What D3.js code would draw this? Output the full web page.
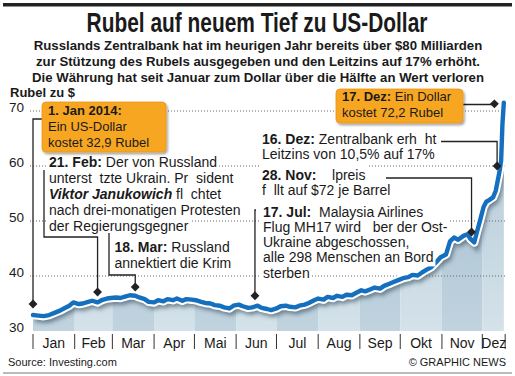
<!DOCTYPE html>
<html>
<head>
<meta charset="utf-8">
<script src="https://d3js.org/d3.v7.min.js"></script>
<style>
  body { margin:0; background:#fff; }
  text { font-family: "Liberation Sans", Arial, Helvetica, sans-serif; fill:#1a1a1a; }
</style>
</head>
<body>
<script>
// Rubel je US-Dollar, 2014
var dates = [
  "2014-01-01","2014-01-05","2014-01-09","2014-01-13","2014-01-17","2014-01-21","2014-01-24","2014-01-28","2014-01-31",
  "2014-02-04","2014-02-07","2014-02-11","2014-02-14","2014-02-18","2014-02-21","2014-02-25","2014-02-28",
  "2014-03-04","2014-03-07","2014-03-11","2014-03-14","2014-03-18","2014-03-21","2014-03-25","2014-03-28",
  "2014-04-01","2014-04-04","2014-04-08","2014-04-11","2014-04-15","2014-04-18","2014-04-22","2014-04-25","2014-04-29",
  "2014-05-02","2014-05-06","2014-05-09","2014-05-13","2014-05-16","2014-05-20","2014-05-23","2014-05-27","2014-05-30",
  "2014-06-03","2014-06-06","2014-06-10","2014-06-13","2014-06-17","2014-06-20","2014-06-24","2014-06-27",
  "2014-07-01","2014-07-04","2014-07-08","2014-07-11","2014-07-15","2014-07-18","2014-07-22","2014-07-25","2014-07-29",
  "2014-08-01","2014-08-05","2014-08-08","2014-08-12","2014-08-15","2014-08-19","2014-08-22","2014-08-26","2014-08-29",
  "2014-09-02","2014-09-05","2014-09-09","2014-09-12","2014-09-16","2014-09-19","2014-09-23","2014-09-26","2014-09-30",
  "2014-10-03","2014-10-07","2014-10-10","2014-10-14","2014-10-17","2014-10-21","2014-10-24","2014-10-28","2014-10-31",
  "2014-11-04","2014-11-07","2014-11-10","2014-11-13","2014-11-17","2014-11-20","2014-11-22","2014-11-25","2014-11-27","2014-11-29",
  "2014-12-02","2014-12-04","2014-12-06","2014-12-09","2014-12-11","2014-12-13","2014-12-14","2014-12-15","2014-12-16","2014-12-17"
];
var rates = [
  32.9,32.8,32.7,32.9,33.3,33.7,34.1,34.6,35.2,
  34.9,35.0,35.3,35.5,35.2,35.6,35.9,36.0,
  36.1,36.0,36.3,36.5,36.4,36.1,35.8,35.3,
  35.2,35.6,35.4,35.8,35.6,35.9,35.5,35.8,35.7,
  35.6,35.3,35.1,35.0,34.7,34.6,34.3,34.1,34.6,
  34.8,34.5,34.2,34.3,34.6,34.2,34.0,33.8,
  34.1,34.5,34.6,34.4,34.3,34.6,34.8,35.1,35.6,
  35.9,35.7,36.2,36.0,36.4,36.2,36.6,36.5,36.9,
  37.4,37.2,37.6,37.9,37.7,38.2,38.6,38.9,39.3,
  39.6,39.8,40.2,40.1,40.6,41.2,41.6,42.6,43.4,
  43.9,46.3,47.0,46.6,47.3,47.6,46.8,46.1,48.0,49.8,
  52.6,53.5,53.8,54.3,55.5,58.0,59.3,61.0,67.8,71.5
];
var monthLabels = ["Jan","Feb","Mar","Apr","Mai","Jun","Jul","Aug","Sep","Okt","Nov","Dez"];
var yLabels = [30, 40, 50, 60, 70];
var gridValues = [40, 50, 60, 70];
var axisEndDate = "2014-12-18";

var titleText = "Rubel auf neuem Tief zu US-Dollar";
var subtitleLines = [
  "Russlands Zentralbank hat im heurigen Jahr bereits über $80 Milliarden",
  "zur Stützung des Rubels ausgegeben und den Leitzins auf 17% erhöht.",
  "Die Währung hat seit Januar zum Dollar über die Hälfte an Wert verloren"
];
var unitLabel = "Rubel zu $";
var sourceText = "Source: Investing.com";
var creditText = "© GRAPHIC NEWS";

// Ereignisse: Text (*fett*, _fett kursiv_), Markerdatum und Markerhöhe
var noteText = [
  ["*1. Jan 2014:*", "Ein US-Dollar", "kostet 32,9 Rubel"],
  ["*21. Feb:* Der von Russland", "unterst  tzte Ukrain. Pr  sident", "_Viktor Janukowich_ fl  chtet", "nach drei-monatigen Protesten", "der Regierungsgegner"],
  ["*18. Mar:* Russland", "annektiert die Krim"],
  ["*17. Jul:*  Malaysia Airlines", "Flug MH17 wird   ber der Ost-", "Ukraine abgeschossen,", "alle 298 Menschen an Bord", "sterben"],
  ["*28. Nov:*    lpreis", "f  llt auf $72 je Barrel"],
  ["*16. Dez:* Zentralbank erh  ht", "Leitzins von 10,5% auf 17%"],
  ["*17. Dez:* Ein Dollar", "kostet 72,2 Rubel"]
];
var noteAt = ["2014-01-01","2014-02-18","2014-03-18","2014-06-15","2014-11-23","2014-12-12","2014-12-10"];
var noteValue = [34.9, 37.1, 38.0, 36.4, 48.0, 60.0, 71.3];

var width = 515, height = 376;
var parse = d3.timeParse("%Y-%m-%d");
var data = dates.map(function (d, i) { return {date: parse(d), v: rates[i]}; });
var axisEnd = parse(axisEndDate);

var x = d3.scaleTime()
    .domain([new Date(2014, 0, 1), new Date(2015, 0, 1)])
    .range([33, 524]);
var y = d3.scaleLinear()
    .domain([30, 70])
    .range([331, 111]);

var svg = d3.select("body").append("svg")
    .attr("width", width)
    .attr("height", height);

var defs = svg.append("defs");
var area = d3.area()
    .x(function (d) { return x(d.date); })
    .y0(y(30))
    .y1(function (d) { return y(d.v); });
var line = d3.line()
    .x(function (d) { return x(d.date); })
    .y(function (d) { return y(d.v); });

defs.append("clipPath").attr("id", "areaClip")
    .append("path").attr("d", area(data));
defs.append("filter").attr("id", "blur")
    .attr("x", "-20%").attr("y", "-20%").attr("width", "140%").attr("height", "140%")
    .append("feGaussianBlur").attr("stdDeviation", 2.2);
var ds = defs.append("filter").attr("id", "boxShadow")
    .attr("x", "-10%").attr("y", "-10%").attr("width", "130%").attr("height", "140%");
ds.append("feDropShadow").attr("dx", 1.5).attr("dy", 2).attr("stdDeviation", 1.2)
    .attr("flood-color", "#000").attr("flood-opacity", 0.35);
var grad = defs.append("linearGradient").attr("id", "depth")
    .attr("gradientUnits", "userSpaceOnUse")
    .attr("x1", 0).attr("x2", 0).attr("y1", y(70)).attr("y2", y(30));
grad.append("stop").attr("offset", "0%").attr("stop-color", "#3d6a8a").attr("stop-opacity", 0.22);
grad.append("stop").attr("offset", "100%").attr("stop-color", "#3d6a8a").attr("stop-opacity", 0.0);

// top rule
svg.append("rect").attr("x", 3).attr("y", 3).attr("width", 509).attr("height", 3.5).attr("fill", "#222");

// title, squeezed horizontally to a condensed look
svg.append("text")
    .attr("transform", "translate(257,31.5) scale(0.76,1)")
    .attr("text-anchor", "middle")
    .style("font-weight", "bold")
    .style("font-size", "27.5px")
    .text(titleText);

svg.selectAll("text.sub").data(subtitleLines).enter().append("text")
    .attr("class", "sub")
    .attr("x", 258).attr("y", function (d, i) { return 50.3 + i * 16; })
    .attr("text-anchor", "middle")
    .style("font-weight", "bold").style("font-size", "13.2px")
    .text(function (d) { return d; });

svg.append("text").attr("x", 10).attr("y", 97)
    .style("font-weight", "bold").style("font-size", "13px")
    .text(unitLabel);

// month stripes inside the area
var months = d3.timeMonth.range(new Date(2014, 0, 1), axisEnd);
var plot = svg.append("g");
var clipped = plot.append("g").attr("clip-path", "url(#areaClip)");
clipped.selectAll("rect.m").data(months).enter().append("rect")
    .attr("class", "m")
    .attr("x", function (d) { return x(d); })
    .attr("width", function (d) { return x(d3.min([d3.timeMonth.offset(d, 1), axisEnd])) - x(d); })
    .attr("y", y(75)).attr("height", y(30) - y(75))
    .attr("fill", function (d, i) { return i % 2 === 0 ? "#c0d3df" : "#d4e2ea"; });
clipped.append("rect")
    .attr("x", x(months[0])).attr("width", x(axisEnd) - x(months[0]))
    .attr("y", y(75)).attr("height", y(30) - y(75))
    .attr("fill", "url(#depth)");
clipped.append("path")
    .attr("d", line(data))
    .attr("fill", "none")
    .attr("stroke", "#33475a").attr("stroke-opacity", 0.6)
    .attr("stroke-width", 7)
    .attr("transform", "translate(2,3.5)")
    .attr("filter", "url(#blur)");

// dotted grid
plot.selectAll("line.grid").data(gridValues).enter().append("line")
    .attr("class", "grid")
    .attr("x1", 30).attr("x2", x(axisEnd))
    .attr("y1", function (d) { return y(d); })
    .attr("y2", function (d) { return y(d); })
    .attr("stroke", "#666").attr("stroke-width", 1)
    .attr("stroke-dasharray", "1,2");

plot.selectAll("text.yl").data(yLabels).enter().append("text")
    .attr("class", "yl")
    .attr("x", 9).attr("y", function (d) { return y(d) + 1; })
    .style("font-size", "13.5px")
    .text(function (d) { return d; });

// the line
plot.append("path").attr("d", line(data))
    .attr("fill", "none").attr("stroke", "#fff").attr("stroke-width", 8.5)
    .attr("stroke-linejoin", "round").attr("stroke-linecap", "round");
plot.append("path").attr("d", line(data))
    .attr("fill", "none").attr("stroke", "#146fbf").attr("stroke-width", 4.4)
    .attr("stroke-linejoin", "round").attr("stroke-linecap", "round");

// month axis
var axisY = 334;
svg.selectAll("line.sep").data(months.concat([axisEnd])).enter().append("line")
    .attr("class", "sep")
    .attr("x1", function (d) { return x(d); }).attr("x2", function (d) { return x(d); })
    .attr("y1", axisY).attr("y2", axisY + 15)
    .attr("stroke", "#333").attr("stroke-width", 1);
svg.selectAll("text.mon").data(months).enter().append("text")
    .attr("class", "mon")
    .attr("x", function (d) { return (x(d) + x(d3.min([d3.timeMonth.offset(d, 1), axisEnd]))) / 2; })
    .attr("y", axisY + 14)
    .attr("text-anchor", "middle")
    .style("font-size", "14px")
    .text(function (d, i) { return monthLabels[i]; });

// annotations
var layout = [
  {box: [42, 102, 124, 50], tx: 48, ty: 114.7, lh: 16, fs: 13, lead: [[42, 119]]},
  {tx: 49, ty: 166.5, lh: 16.1, fs: 14, lead: [[44, 170], [44, 237]]},
  {tx: 114.5, ty: 251.5, lh: 16.5, fs: 14, lead: [[109, 233], [109, 275]]},
  {tx: 263, ty: 216.5, lh: 15.3, fs: 14, lead: [[256, 210]]},
  {tx: 262, ty: 180, lh: 14.5, fs: 14, lead: [[386, 178]]},
  {tx: 262, ty: 143.5, lh: 15.5, fs: 14, lead: [[441, 141.5]]},
  {box: [336, 89, 127, 34], tx: 342, ty: 101.4, lh: 16, fs: 13, lead: [[463, 104.5]]}
];

function rich(textSel, str) {
  str.split(/(\*[^*]+\*|_[^_]+_)/).filter(function (s) { return s.length; }).forEach(function (p) {
    var t = textSel.append("tspan");
    if (p[0] === "*") t.style("font-weight", "bold").text(p.slice(1, -1));
    else if (p[0] === "_") t.style("font-weight", "bold").style("font-style", "italic").text(p.slice(1, -1));
    else t.text(p);
  });
}

var notesG = svg.append("g");
var bgG = notesG.append("g"), leadG = notesG.append("g"), boxG = notesG.append("g"), txtG = notesG.append("g");

noteText.forEach(function (lines, k) {
  var L = layout[k];
  var mx = x(parse(noteAt[k])), my = y(noteValue[k]);
  var pts = L.lead.slice();
  var last = pts[pts.length - 1];
  pts.push([mx, last[1]]);
  pts.push([mx, my]);
  leadG.append("path")
      .attr("d", d3.line()(pts))
      .attr("fill", "none").attr("stroke", "#222").attr("stroke-width", 1.3);
  leadG.append("path")
      .attr("d", d3.symbol().type(d3.symbolDiamond2).size(50)())
      .attr("transform", "translate(" + mx + "," + my + ")")
      .attr("fill", "#222");

  if (L.box) {
    boxG.append("rect")
        .attr("x", L.box[0]).attr("y", L.box[1])
        .attr("width", L.box[2]).attr("height", L.box[3])
        .attr("rx", 4)
        .attr("fill", "#f7a623").attr("stroke", "#e8961a").attr("stroke-width", 0.8)
        .attr("filter", "url(#boxShadow)");
  }
  lines.forEach(function (s, j) {
    var t = txtG.append("text")
        .attr("x", L.tx).attr("y", L.ty + j * L.lh)
        .attr("xml:space", "preserve")
        .style("white-space", "pre")
        .style("font-size", L.fs + "px");
    rich(t, s);
    if (!L.box) {
      var b = t.node().getBBox();
      bgG.append("rect")
          .attr("x", b.x - 2).attr("y", L.ty + j * L.lh - 15)
          .attr("width", b.width + 4).attr("height", 19)
          .attr("fill", "#fff");
    }
  });
});

// footer
svg.append("text").attr("x", 8).attr("y", 366).style("font-size", "11px").text(sourceText);
svg.append("text").attr("x", 506).attr("y", 366).attr("text-anchor", "end").style("font-size", "11px").text(creditText);
svg.append("line").attr("x1", 3).attr("x2", 512).attr("y1", 373).attr("y2", 373)
    .attr("stroke", "#777").attr("stroke-width", 1);
</script>
</body>
</html>
